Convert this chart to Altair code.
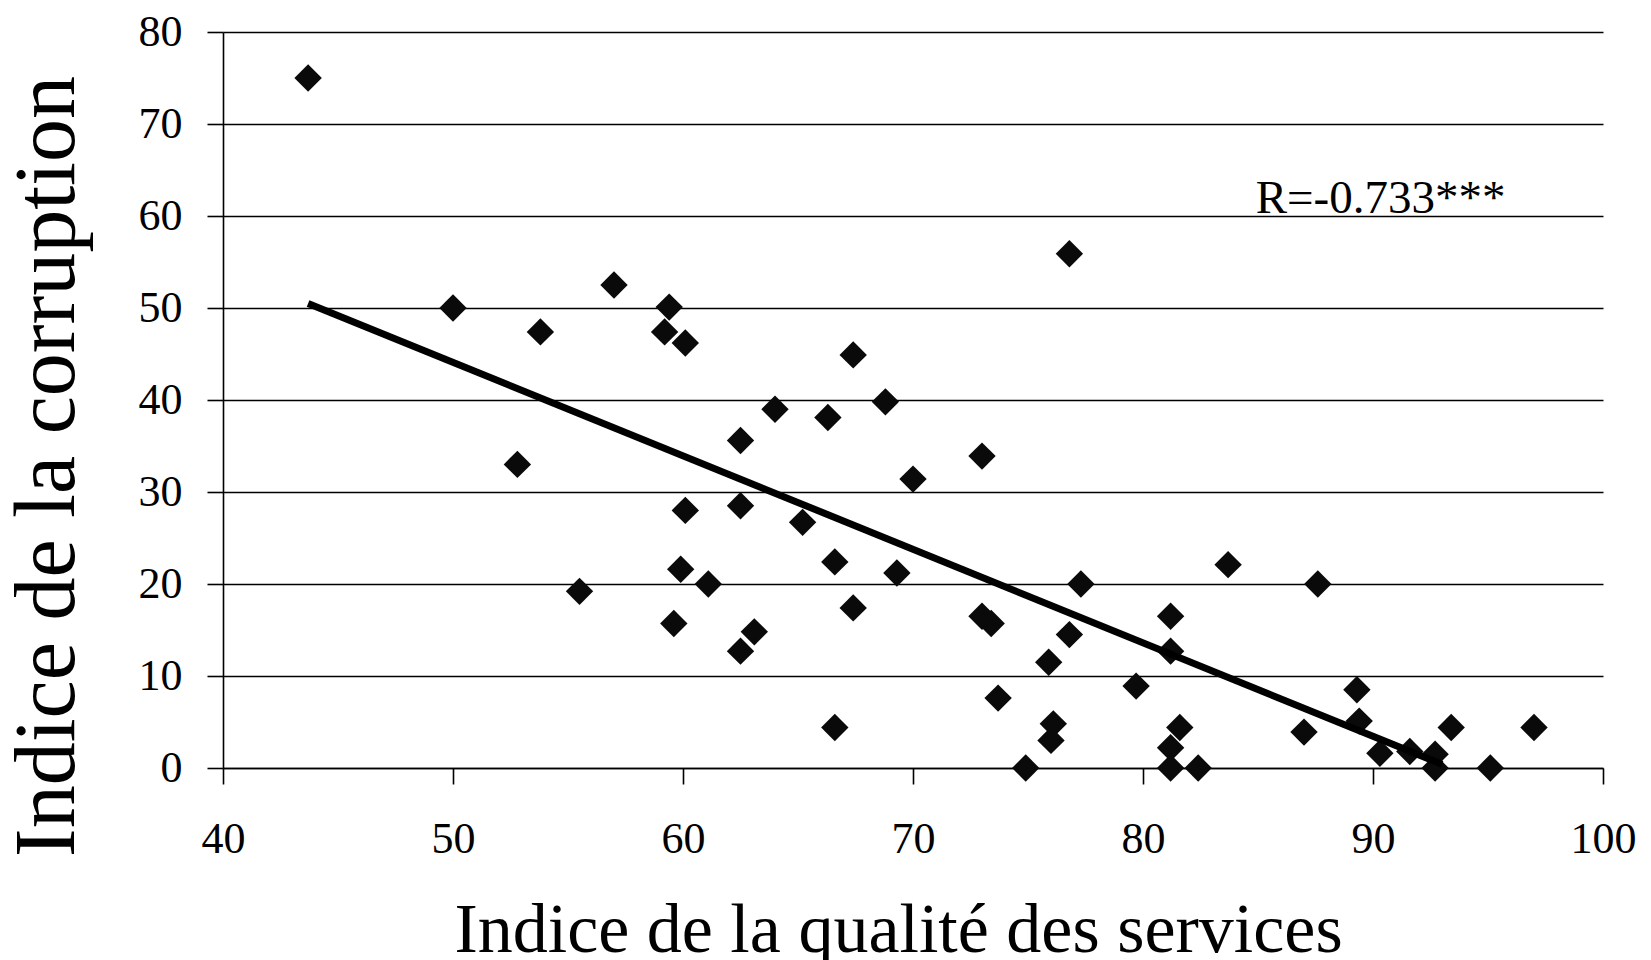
import altair as alt
import pandas as pd

# Scatter values
quality = [43.7, 50.0, 52.8, 53.8, 55.5, 57.0, 59.4, 59.2, 60.1, 59.6,
           59.9, 60.1, 61.1, 62.5, 62.5, 62.5, 63.1, 64.0, 65.2, 66.3,
           66.6, 66.6, 67.4, 67.4, 68.8, 69.3, 70.0, 73.0, 73.0, 73.4,
           73.7, 74.9, 75.9, 76.1, 76.0, 76.8, 76.8, 77.3, 79.7, 81.2,
           81.2, 81.2, 81.2, 81.6, 82.4, 83.7, 87.0, 87.6, 89.3, 89.4,
           90.3, 91.6, 92.7, 92.7, 93.4, 95.1, 97.0]
corruption = [75.0, 50.0, 33.0, 47.4, 19.2, 52.5, 50.1, 47.4, 46.2, 15.7,
              21.6, 28.0, 20.0, 35.6, 28.5, 12.7, 14.8, 39.0, 26.7, 38.1,
              22.4, 4.4, 44.9, 17.4, 39.8, 21.2, 31.4, 33.9, 16.5, 15.7,
              7.6, 0.0, 11.5, 4.8, 3.0, 14.5, 55.9, 20.0, 8.9, 16.5,
              12.7, 2.2, 0.0, 4.4, 0.0, 22.1, 3.9, 20.0, 8.5, 5.1,
              1.6, 1.8, 1.5, 0.0, 4.4, 0.0, 4.4]

# Trend line end points
trend_x = [43.7, 93.0]
trend_y = [50.5, 0.4]

# Annotation
r_text = ["R=-0.733***"]
r_x = [84.9]
r_y = [60.3]

x_ticks = [40, 50, 60, 70, 80, 90, 100]
y_ticks = [0, 10, 20, 30, 40, 50, 60, 70, 80]

FONT = "Liberation Serif"

pts = pd.DataFrame({"q": quality, "c": corruption})
trend = pd.DataFrame({"q": trend_x, "c": trend_y})
ann = pd.DataFrame({"q": r_x, "c": r_y, "t": r_text})

xscale = alt.Scale(domain=[40, 100], nice=False, zero=False)
yscale = alt.Scale(domain=[0, 80], nice=False, zero=False)

x_axis = alt.Axis(
    values=x_ticks, grid=False, title="Indice de la qualité des services",
    labelFontSize=44, labelPadding=33, labelFlush=False, labelOverlap=False,
    titleFontSize=70, titleX=675, titleY=183, titleAlign="center",
    titleBaseline="alphabetic", titleAnchor="start",
)
y_axis = alt.Axis(
    values=y_ticks, grid=True, title="Indice de la corruption",
    labelFontSize=44, labelPadding=25, labelFlush=False, labelOverlap=False,
    titleFontSize=86, titleAngle=270, titleX=-150, titleY=434,
    titleAlign="center", titleBaseline="alphabetic", titleAnchor="start",
)

points = alt.Chart(pts).mark_point(
    shape="diamond", filled=True, size=750, color="#0a0a0a", opacity=1
).encode(
    x=alt.X("q:Q", scale=xscale, axis=x_axis),
    y=alt.Y("c:Q", scale=yscale, axis=y_axis),
)

line = alt.Chart(trend).mark_line(color="#000000", strokeWidth=7).encode(
    x=alt.X("q:Q", scale=xscale),
    y=alt.Y("c:Q", scale=yscale),
)

label = alt.Chart(ann).mark_text(
    align="left", baseline="alphabetic", font=FONT, fontSize=47, color="#000000"
).encode(
    x=alt.X("q:Q", scale=xscale),
    y=alt.Y("c:Q", scale=yscale),
    text="t:N",
)

chart = alt.layer(points, line, label).properties(
    width=1380, height=736,
    autosize=alt.AutoSizeParams(type="none"),
    padding={"left": 215, "top": 24, "right": 36, "bottom": 200},
    background="white",
).configure_view(
    strokeWidth=0
).configure_axis(
    domainColor="black", domainWidth=1.6,
    tickColor="black", tickWidth=1.6, tickSize=16,
    gridColor="black", gridWidth=1.6, gridOpacity=1,
    labelFont=FONT, labelColor="black",
    titleFont=FONT, titleColor="black", titleFontWeight="normal",
)

chart.save("out.html", embed_options={"renderer": "svg", "actions": False})
